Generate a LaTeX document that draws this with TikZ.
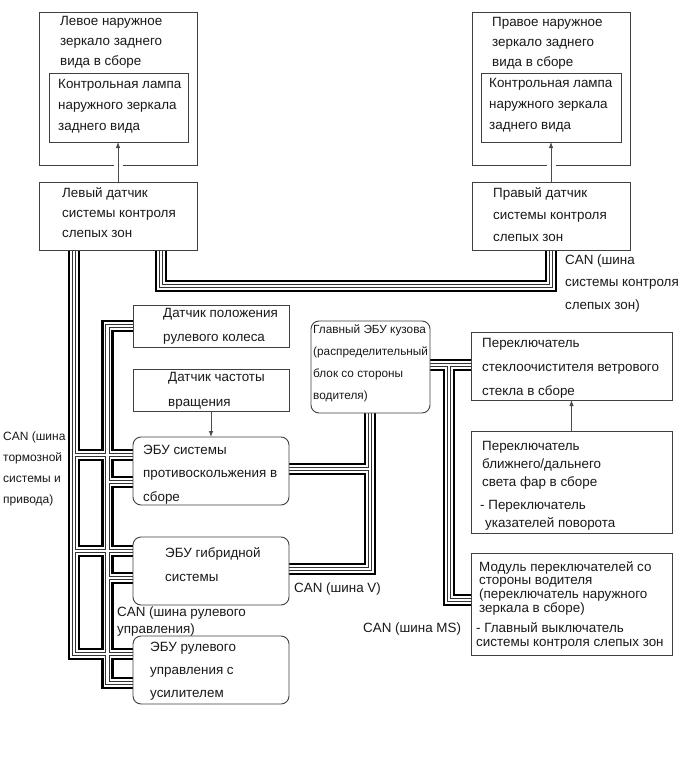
\documentclass[tikz,border=0pt]{standalone}
\usepackage{fontspec}
\setmainfont{Liberation Sans}
\usetikzlibrary{arrows.meta,backgrounds,calc}
\begin{document}
\begin{tikzpicture}[x=1pt,y=-1pt,
  box/.style={draw=black!75, line width=0.9pt, fill=white, inner sep=0pt, outer sep=0pt, anchor=north west},
  rbox/.style={box, rounded corners=8pt},
  txt/.style={anchor=base west, inner sep=0pt, align=left, text=black!90},
  arr/.style={draw=black!70, line width=0.8pt, -{Latex[length=6pt,width=4.5pt]},
    preaction={draw=white, line width=9pt, shorten <=3pt, shorten >=3pt, -}},
  bus/.style={line join=miter,
    preaction={draw=black, line width=12.5pt},
    preaction={draw=white, line width=7.5pt},
    preaction={draw=black!80, line width=4.5pt},
    draw=white, line width=2.5pt}
]
\useasboundingbox (0,0) rectangle (690,757);

% boxes
\node[box, minimum width=158pt, minimum height=153pt] (lmo) at (39,12) {};
\node[box, minimum width=139pt, minimum height=69pt] (lmi) at (49,73) {};
\node[box, minimum width=158pt, minimum height=68pt] (lsn) at (39,182) {};
\node[box, minimum width=158pt, minimum height=153pt] (rmo) at (472,12) {};
\node[box, minimum width=140pt, minimum height=69pt] (rmi) at (481,73) {};
\node[box, minimum width=158pt, minimum height=68pt] (rsn) at (472,182) {};
\node[box, minimum width=156pt, minimum height=42pt] (steer) at (133,305) {};
\node[box, minimum width=156pt, minimum height=42pt] (speed) at (133,369) {};
\node[rbox, minimum width=156pt, minimum height=68pt] (abs) at (133,437) {};
\node[rbox, minimum width=156pt, minimum height=68pt] (hyb) at (133,537) {};
\node[rbox, minimum width=156pt, minimum height=68pt] (eps) at (133,636) {};
\node[rbox, minimum width=119pt, minimum height=92pt] (bcm) at (311,321) {};
\node[box, minimum width=201pt, minimum height=68pt] (wip) at (471,332) {};
\node[box, minimum width=201pt, minimum height=102pt] (head) at (471,431) {};
\node[box, minimum width=201pt, minimum height=102pt] (drv) at (471,553) {};

% texts (anchor = baseline of the last line)
\node[txt, font=\fontsize{13.4}{20}\selectfont] (tlmo) at (60,66) {Левое наружное\\зеркало заднего\\вида в сборе};
\node[txt, font=\fontsize{13.4}{21}\selectfont] (tlmi) at (58,131) {Контрольная лампа\\наружного зеркала\\заднего вида};
\node[txt, font=\fontsize{13.4}{20}\selectfont] (tlsn) at (62,237) {Левый датчик\\системы контроля\\слепых зон};
\node[txt, font=\fontsize{13.4}{20}\selectfont] (trmo) at (492,67) {Правое наружное\\зеркало заднего\\вида в сборе};
\node[txt, font=\fontsize{13.4}{21}\selectfont] (trmi) at (489,130) {Контрольная лампа\\наружного зеркала\\заднего вида};
\node[txt, font=\fontsize{13.4}{22}\selectfont] (trsn) at (493,241) {Правый датчик\\системы контроля\\слепых зон};
\node[txt, font=\fontsize{13.4}{24}\selectfont] (tsteer) at (163,341) {Датчик положения\\рулевого колеса};
\node[txt, font=\fontsize{13.4}{25}\selectfont] (tspeed) at (168,406) {Датчик частоты\\вращения};
\node[txt, font=\fontsize{13.4}{23.5}\selectfont] (tabs) at (143,501) {ЭБУ системы\\противоскольжения в\\сборе};
\node[txt, font=\fontsize{13.4}{24}\selectfont] (thyb) at (165,581) {ЭБУ гибридной\\системы};
\node[txt, font=\fontsize{13.4}{23}\selectfont] (teps) at (150,697) {ЭБУ рулевого\\управления с\\усилителем};
\node[txt, font=\fontsize{11.8}{21.7}\selectfont] (tbcm) at (313,399) {Главный ЭБУ кузова\\(распределительный\\блок со стороны\\водителя)};
\node[txt, font=\fontsize{13.4}{24}\selectfont] (twip) at (482,395) {Переключатель\\стеклоочистителя ветрового\\стекла в сборе};
\node[txt, font=\fontsize{13.4}{18}\selectfont] (thead) at (482,527) {Переключатель\\ближнего/дальнего\\света фар в сборе\\[5pt]\hspace*{-2pt}- Переключатель\\\hspace*{3pt}указателей поворота};
\node[txt, font=\fontsize{13.4}{13.7}\selectfont] (tdrv) at (479,646) {Модуль переключателей со\\стороны водителя\\(переключатель наружного\\зеркала в сборе)\\[6.3pt]\hspace*{-3pt}- Главный выключатель\\\hspace*{-3pt}системы контроля слепых зон};

% labels
\node[txt, font=\fontsize{13.4}{22.5}\selectfont] (lbs) at (565,309) {CAN (шина\\системы контроля\\слепых зон)};
\node[txt, font=\fontsize{12}{20.7}\selectfont] (lbr) at (3,503) {CAN (шина\\тормозной\\системы и\\привода)};
\node[txt, font=\fontsize{13.4}{17}\selectfont] (lst) at (117,633) {CAN (шина рулевого\\управления)};
\node[txt, font=\fontsize{13.4}{16}\selectfont] (lv) at (294,592) {CAN (шина V)};
\node[txt, font=\fontsize{13.4}{16}\selectfont] (lms) at (363,632) {CAN (шина MS)};

% arrows
\draw[arr] (lsn.north) -- (lsn.north |- lmi.south);
\draw[arr] (rsn.north) -- (rsn.north |- rmi.south);
\draw[arr] (speed.south) -- (speed.south |- abs.north);
\draw[arr] (head.north) -- (head.north |- wip.south);

% bus corner coordinates
\coordinate (bs1) at (161,286);
\coordinate (bs2) at (551,286);
\coordinate (t1a) at (74,455);
\coordinate (t1b) at (74,551);
\coordinate (t1c) at (74,654);
\coordinate (t2s) at (107.5,326);
\coordinate (t2a) at (107.5,482);
\coordinate (t2b) at (107.5,578);
\coordinate (t2c) at (107.5,683);
\coordinate (va) at (370,469);
\coordinate (vb) at (370,569);
\coordinate (ma) at (449,365);
\coordinate (mb) at (449,600);

\begin{scope}[on background layer]
\fill[white] (0,0) rectangle (690,757);
\path[bus]
  (lsn.south -| bs1) -- (bs1) -- (bs2) -- (rsn.south -| bs2)
  (lsn.south -| t1a) -- (t1c) -- (eps.west |- t1c)
  (t1a) -- (abs.west |- t1a)
  (t1b) -- (hyb.west |- t1b)
  (steer.west |- t2s) -- (t2s) -- (t2c) -- (eps.west |- t2c)
  (t2a) -- (abs.west |- t2a)
  (t2b) -- (hyb.west |- t2b)
  (bcm.south -| va) -- (vb) -- (hyb.east |- vb)
  (va) -- (abs.east |- va)
  (bcm.east |- ma) -- (wip.west |- ma)
  (ma) -- (mb) -- (drv.west |- mb);
\end{scope}
\end{tikzpicture}
\end{document}
